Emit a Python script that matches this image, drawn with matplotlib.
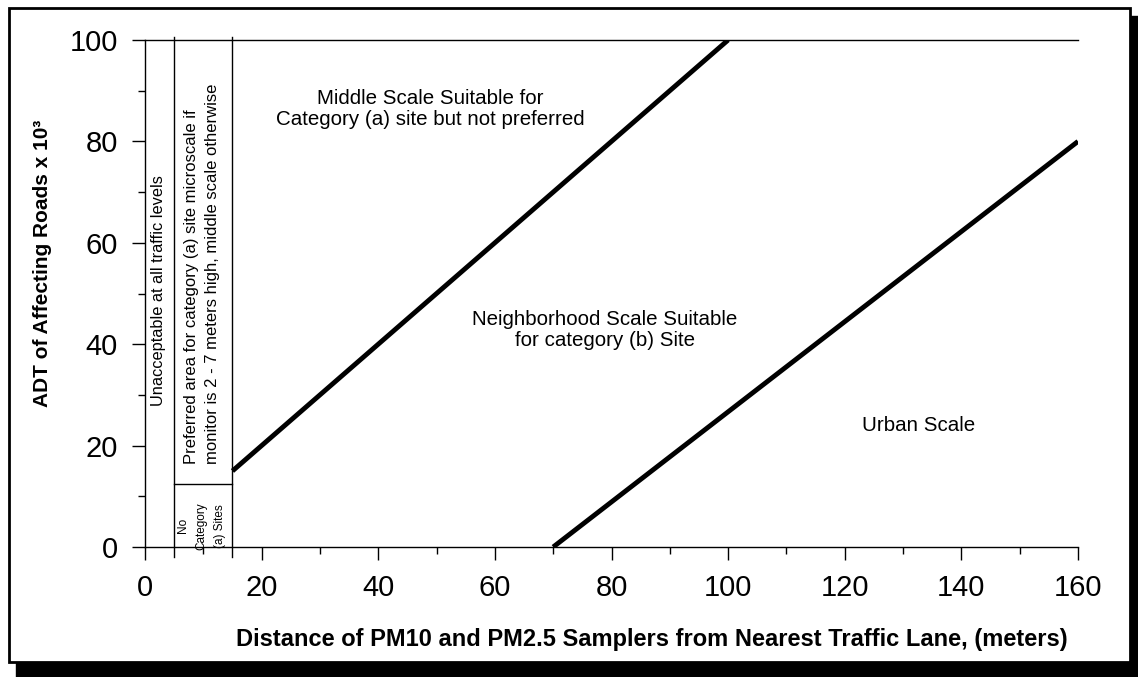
import matplotlib
matplotlib.use("Agg")
import matplotlib.pyplot as plt
from matplotlib.patches import Rectangle

plt.rcParams['font.family'] = ['Liberation Sans', 'DejaVu Sans']

# region boundaries (meters / ADT x 10^3)
boundary_x = [5, 15]
no_site_top = 12.5
upper_x = [15, 100]
upper_y = [15, 100]
lower_x = [70, 160]
lower_y = [0, 80]

x_ticks = list(range(0, 161, 20))
y_ticks = list(range(0, 101, 20))

fig = plt.figure(figsize=(11.38, 6.77), dpi=100)

# page frame with drop shadow
W, H = 1138, 677
fig.patches.append(Rectangle((16 / W, 0), 1 - 16 / W, (H - 16) / H,
                             transform=fig.transFigure, color='black', zorder=-2))
fig.patches.append(Rectangle((9 / W, 15 / H), 1121 / W, 654 / H,
                             transform=fig.transFigure, facecolor='white',
                             edgecolor='black', lw=2, zorder=-1))

ax = fig.add_axes([145 / W, 130 / H, 933 / W, 507 / H])
ax.set_zorder(2)
ax.set_facecolor('none')
ax.set_xlim(0, 160)
ax.set_ylim(0, 100)
ax.spines['right'].set_visible(False)
for s in ['left', 'bottom', 'top']:
    ax.spines[s].set_linewidth(1.0)

ax.set_xticks(x_ticks)
ax.set_yticks(y_ticks)
ax.set_xticks(range(10, 161, 20), minor=True)
ax.set_yticks(range(10, 101, 20), minor=True)
ax.tick_params(which='major', length=9.5, width=1.0, labelsize=21, pad=10)
ax.tick_params(which='minor', length=5, width=1.0)

# region boundaries
for bx in boundary_x:
    ax.plot([bx, bx], [-2, 100.6], color='black', lw=1.0, clip_on=False)
ax.plot(boundary_x, [no_site_top, no_site_top], color='black', lw=1.0)
ax.plot(upper_x, upper_y, color='black', lw=3.5, solid_capstyle='butt')
ax.plot(lower_x, lower_y, color='black', lw=3.5, solid_capstyle='butt')

# labels for regions
ax.text(49, 86.4, "Middle Scale Suitable for\nCategory (a) site but not preferred",
        ha='center', va='center', fontsize=14.8, linespacing=1.15)
ax.text(78.8, 42.8, "Neighborhood Scale Suitable\nfor category (b) Site",
        ha='center', va='center', fontsize=14.8, linespacing=1.15)
ax.text(132.6, 23.9, "Urban Scale", ha='center', va='center', fontsize=14.8)
ax.text(2.3, 50.5, "Unacceptable at all traffic levels", rotation=90,
        ha='center', va='center', fontsize=11.8)
ax.text(9.8, 16.4,
        "Preferred area for category (a) site microscale if\n"
        "monitor is 2 - 7 meters high, middle scale otherwise",
        rotation=90, ha='center', va='bottom', multialignment='left',
        fontsize=12, linespacing=1.45)
ax.text(9.7, 4.2, "No\nCategory\n(a) Sites", rotation=90, ha='center',
        va='center', fontsize=8.5, linespacing=1.7)

ax.set_xlabel("Distance of PM10 and PM2.5 Samplers from Nearest Traffic Lane, (meters)",
              fontsize=17, fontweight='bold')
ax.set_ylabel("ADT of Affecting Roads x 10³", fontsize=15, fontweight='bold')
ax.xaxis.set_label_coords(0.543, -0.16)
ax.yaxis.set_label_coords(-0.100, 0.56)

fig.savefig("out.png", dpi=100)
